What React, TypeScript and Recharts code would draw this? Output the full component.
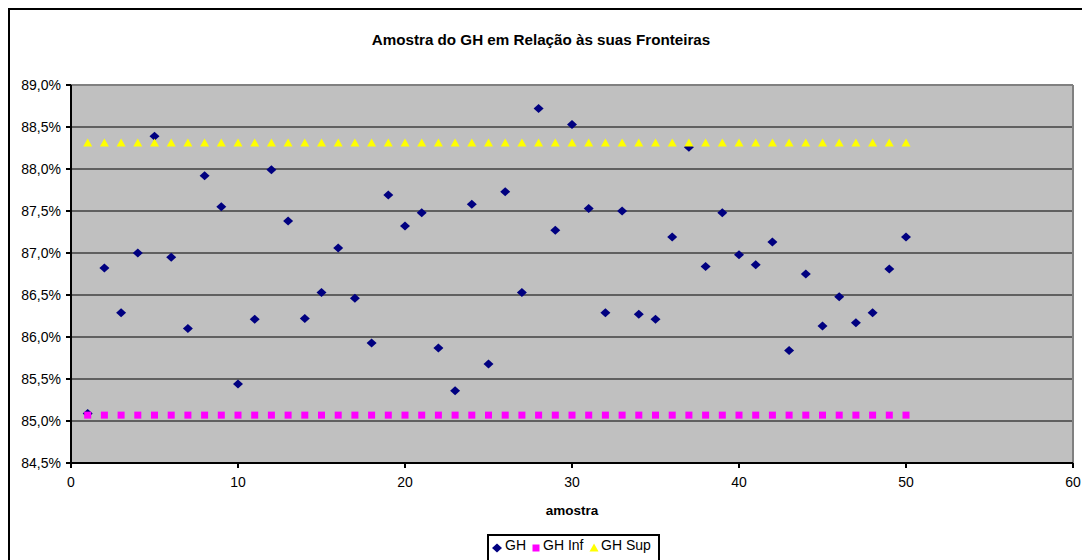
import { ScatterChart, Scatter, XAxis, YAxis, CartesianGrid, ReferenceLine, Label } from 'recharts';

const amostras = [
  1, 2, 3, 4, 5, 6, 7, 8, 9, 10,
  11, 12, 13, 14, 15, 16, 17, 18, 19, 20,
  21, 22, 23, 24, 25, 26, 27, 28, 29, 30,
  31, 32, 33, 34, 35, 36, 37, 38, 39, 40,
  41, 42, 43, 44, 45, 46, 47, 48, 49, 50,
];

const valoresGH = [
  85.09, 86.82, 86.29, 87.0, 88.39, 86.95, 86.1, 87.92, 87.55, 85.44,
  86.21, 87.99, 87.38, 86.22, 86.53, 87.06, 86.46, 85.93, 87.69, 87.32,
  87.48, 85.87, 85.36, 87.58, 85.68, 87.73, 86.53, 88.72, 87.27, 88.53,
  87.53, 86.29, 87.5, 86.27, 86.21, 87.19, 88.26, 86.84, 87.48, 86.98,
  86.86, 87.13, 85.84, 86.75, 86.13, 86.48, 86.17, 86.29, 86.81, 87.19,
];

// fronteiras (limites constantes)
const GH_INF = 85.07;
const GH_SUP = 88.31;

const xTicks = [0, 10, 20, 30, 40, 50, 60];
const yTicks = [84.5, 85, 85.5, 86, 86.5, 87, 87.5, 88, 88.5, 89];

const FONT = '"Liberation Sans", Arial, sans-serif';

const dadosGH = amostras.map((a, i) => ({ amostra: a, valor: valoresGH[i] }));
const dadosInf = amostras.map((a) => ({ amostra: a, valor: GH_INF }));
const dadosSup = amostras.map((a) => ({ amostra: a, valor: GH_SUP }));

const fmtPct = (v: number) => v.toFixed(1).replace('.', ',') + '%';

const Diamond = (p: any) => (
  <path d={`M${p.cx},${p.cy - 4.5}L${p.cx + 5},${p.cy}L${p.cx},${p.cy + 4.5}L${p.cx - 5},${p.cy}Z`} fill="#000080" />
);
const Square = (p: any) => <rect x={p.cx - 3.5} y={p.cy - 3.5} width={7} height={7} fill="#FF00FF" />;
const Triangle = (p: any) => (
  <path d={`M${p.cx},${p.cy - 4.5}L${p.cx + 4.5},${p.cy + 3.5}L${p.cx - 4.5},${p.cy + 3.5}Z`} fill="#FFFF00" />
);

export default function App() {
  return (
    <div style={{ position: 'fixed', left: 0, top: 0, width: 1082, height: 560, overflow: 'hidden', background: '#fff', fontFamily: FONT }}>
      <div style={{ position: 'absolute', left: 8, top: 8, width: 1100, height: 620, border: '2px solid #000' }}>
        <ScatterChart width={1080} height={560} margin={{ top: 75, right: 17, left: 0, bottom: 77 }}>
          <CartesianGrid horizontal vertical={false} stroke="#000" fill="#C0C0C0" fillOpacity={1} />
          <XAxis
            type="number"
            dataKey="amostra"
            domain={[0, 60]}
            ticks={xTicks}
            height={30}
            tickSize={5}
            tickMargin={9}
            axisLine={{ stroke: '#000', strokeWidth: 2 }}
            tickLine={{ stroke: '#000', strokeWidth: 2 }}
            tick={{ fill: '#000', fontSize: 14, fontFamily: FONT }}
          >
            <Label
              content={(props: any) => {
                const vb = props.viewBox;
                return (
                  <text x={vb.x + vb.width / 2} y={vb.y + 52} textAnchor="middle" fontSize={13.5} fontWeight="bold" fontFamily={FONT} fill="#000">
                    amostra
                  </text>
                );
              }}
            />
          </XAxis>
          <YAxis
            type="number"
            dataKey="valor"
            domain={[84.5, 89]}
            ticks={yTicks}
            width={61}
            tickSize={5}
            tickMargin={5}
            tickFormatter={fmtPct}
            axisLine={{ stroke: '#000', strokeWidth: 2 }}
            tickLine={{ stroke: '#000', strokeWidth: 2 }}
            tick={{ fill: '#000', fontSize: 14, fontFamily: FONT }}
          />
          <ReferenceLine y={89} stroke="#808080" strokeWidth={2} />
          <ReferenceLine x={60} stroke="#808080" strokeWidth={2} />
          <Scatter name="GH" data={dadosGH} shape={Diamond} isAnimationActive={false} />
          <Scatter name="GH Inf" data={dadosInf} shape={Square} isAnimationActive={false} />
          <Scatter name="GH Sup" data={dadosSup} shape={Triangle} isAnimationActive={false} />
        </ScatterChart>
      </div>

      <div style={{ position: 'absolute', left: 0, top: 31, width: 1082, textAlign: 'center', fontSize: 15.2, lineHeight: '18px', fontWeight: 'bold', color: '#000' }}>
        Amostra do GH em Relação às suas Fronteiras
      </div>

      <svg style={{ position: 'absolute', left: 487, top: 534 }} width={175} height={30}>
        <rect x={1} y={1} width={171} height={50} fill="#fff" stroke="#000" strokeWidth={2} />
        <Diamond cx={10} cy={14} />
        <text x={18} y={16} fontSize={14} fontFamily={FONT} fill="#000">GH</text>
        <Square cx={49} cy={14} />
        <text x={56} y={16} fontSize={14} fontFamily={FONT} fill="#000">GH Inf</text>
        <Triangle cx={107} cy={14} />
        <text x={114} y={16} fontSize={14} fontFamily={FONT} fill="#000">GH Sup</text>
      </svg>
    </div>
  );
}
